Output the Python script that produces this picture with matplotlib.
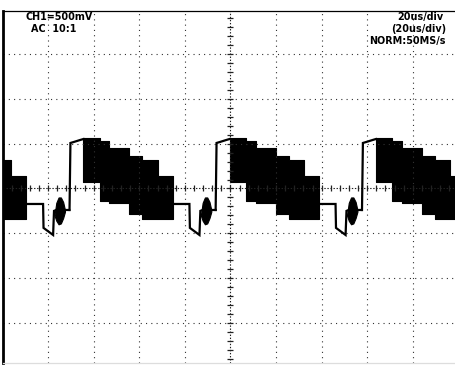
import matplotlib

matplotlib.use("Agg")
import matplotlib.pyplot as plt
import numpy as np

plt.rcParams["lines.scale_dashes"] = False

OUTPUT = "out.png"
FIG_W, FIG_H, DPI = 455, 365, 100

# screen: 20 us/div, 500 mV/div, view cropped on the right
X_LIMITS = (0.0, 198.5)
Y_LIMITS = (-1.948, 1.981)
TIME_DIV = 20.0
VOLT_DIV = 0.5

# rising edge of each period on screen (us)
rise_times = [-34.8, 29.4, 93.5, 157.7]

# trace from the rising edge to the start of the burst (us after rise, V)
edge_t = [0.0, 0.4, 2.0, 4.5, 6.1]
edge_v = [-0.24, 0.508, 0.520, 0.540, 0.552]

# switching burst, drawn as a filled band per step
burst_edges = [6.1, 13.2, 17.5, 26.3, 32.0, 38.6, 45.2]
burst_top = [0.560, 0.525, 0.452, 0.363, 0.318, 0.140]
burst_bottom = [0.073, -0.145, -0.160, -0.285, -0.340, -0.340]

# trace after the burst, down to the next rising edge
tail_t = [45.2, 52.6, 52.8, 57.0, 57.4, 58.4, 62.2, 64.1]
tail_v = [-0.173, -0.173, -0.440, -0.519, -0.250, -0.240, -0.240, -0.240]

# ringing blob just before the rise
blob_t = [57.6, 58.4, 59.4, 60.4, 61.4, 62.2]
blob_top = [-0.30, -0.16, -0.10, -0.10, -0.15, -0.24]
blob_bottom = [-0.30, -0.36, -0.40, -0.39, -0.33, -0.26]

left_labels = ["CH1=500mV", "AC  10:1"]
right_labels = ["20us/div", "(20us/div)", "NORM:50MS/s"]


def draw_grid(ax):
    dots = dict(color="#333333", lw=0.8, dashes=(0.8, 3.0))
    for i in range(1, 10):
        if i != 5:
            ax.axvline(i * TIME_DIV, **dots)
    for j in (-3, -2, -1, 1, 2, 3):
        ax.axhline(j * VOLT_DIV, **dots)

    center = dict(color="#222222", lw=0.8, dashes=(1.0, 1.2))
    ax.axvline(5 * TIME_DIV, **center)
    ax.axhline(0.0, **center)

    sub_t = np.arange(0.0, X_LIMITS[1], TIME_DIV / 5)
    ax.plot(sub_t, np.zeros_like(sub_t), ls="none", marker="|", ms=4, mew=0.9, color="#222222")
    sub_v = np.arange(-1.9, 2.0, VOLT_DIV / 5)
    ax.plot(np.full_like(sub_v, 5 * TIME_DIV), sub_v, ls="none", marker="_", ms=5, mew=0.9,
            color="#222222")


def draw_trace(ax):
    for r in rise_times:
        t = np.array(edge_t) + r
        ax.plot(t, edge_v, color="black", lw=1.6, solid_joinstyle="miter")

        bx = np.array(burst_edges) + r
        ax.fill_between(bx, burst_top + [burst_top[-1]], burst_bottom + [burst_bottom[-1]],
                        step="post", color="black", lw=0.8, edgecolor="black")

        t = np.array(tail_t) + r
        ax.plot(t, tail_v, color="black", lw=1.6, solid_joinstyle="miter")

        t = np.array(blob_t) + r
        ax.fill_between(t, blob_top, blob_bottom, color="black", lw=0.8, edgecolor="black")


def draw_labels(fig):
    font = dict(family="DejaVu Sans", weight="bold", size=6.9, color="black")
    ys = [17, 29, 41]
    for text, y, x in zip(left_labels, ys, [25, 31]):
        fig.text(x / FIG_W, 1 - y / FIG_H, text, ha="left", va="center", **font)
    for text, y, x in zip(right_labels, ys, [443, 446, 446]):
        fig.text(x / FIG_W, 1 - y / FIG_H, text, ha="right", va="center", **font)


def main():
    fig = plt.figure(figsize=(FIG_W / DPI, FIG_H / DPI), dpi=DPI)
    ax = fig.add_axes([2.5 / FIG_W, 2 / FIG_H, 452.5 / FIG_W, 352 / FIG_H])
    ax.set_xlim(*X_LIMITS)
    ax.set_ylim(*Y_LIMITS)
    ax.set_xticks([])
    ax.set_yticks([])
    ax.spines["right"].set_visible(False)
    ax.spines["left"].set_linewidth(2.0)
    ax.spines["top"].set_linewidth(0.9)
    ax.spines["bottom"].set_color("#dddddd")
    ax.spines["bottom"].set_linewidth(0.9)

    draw_grid(ax)
    draw_trace(ax)
    draw_labels(fig)

    fig.savefig(OUTPUT, dpi=DPI)
    plt.close(fig)
    print(f"wrote {OUTPUT}")


if __name__ == "__main__":
    main()
